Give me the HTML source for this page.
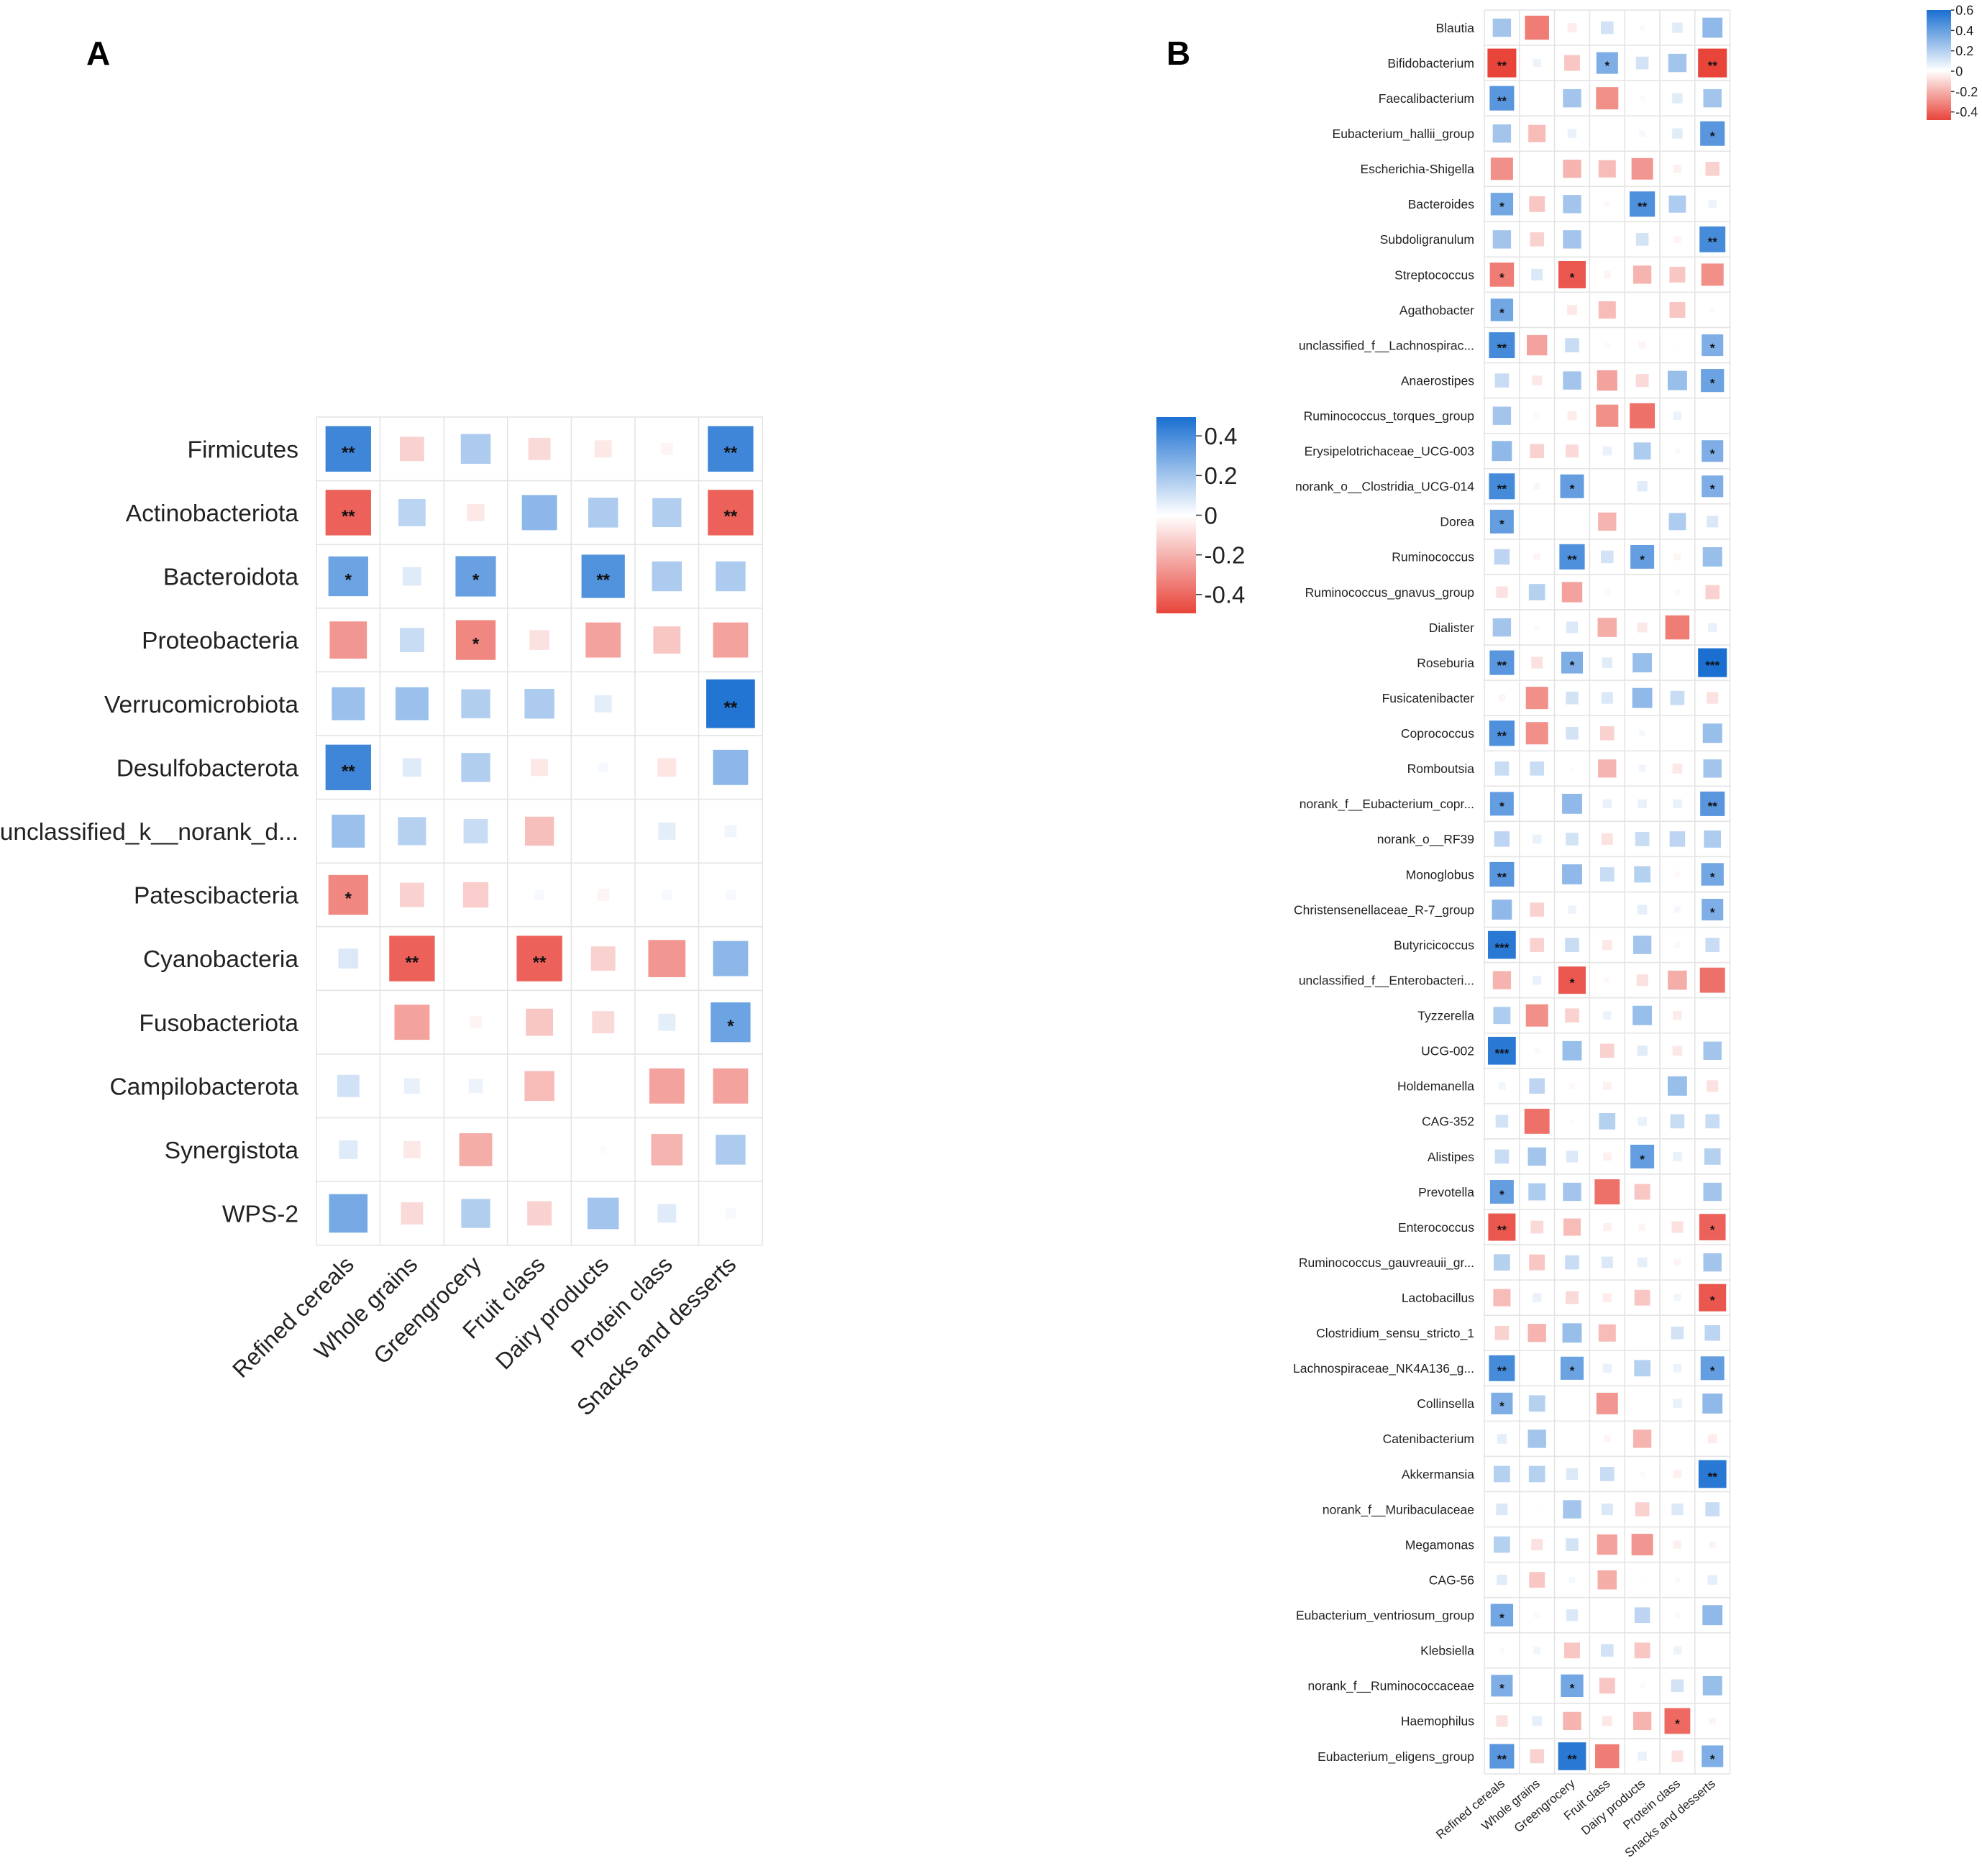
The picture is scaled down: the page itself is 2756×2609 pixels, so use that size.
<!DOCTYPE html>
<html><head><meta charset="utf-8"><style>
html,body{margin:0;padding:0;background:#fff;}
svg{display:block;font-family:"Liberation Sans",Arial,sans-serif;}
</style></head><body>
<svg id="chart" width="2756" height="2609" viewBox="0 0 2756 2609" xmlns="http://www.w3.org/2000/svg">
<rect width="2756" height="2609" fill="#fff"/>
<text x="120" y="90" font-size="46" font-weight="bold">A</text>
<text x="1622" y="90" font-size="46" font-weight="bold">B</text>
<g id="pa"></g>
<g id="pb"></g>
<defs>
<linearGradient id="gA" x1="0" y1="0" x2="0" y2="1">
<stop offset="0" stop-color="#1a6fd1"/><stop offset="0.5" stop-color="#ffffff"/><stop offset="1" stop-color="#e8443a"/>
</linearGradient>
<linearGradient id="gB" x1="0" y1="0" x2="0" y2="1">
<stop offset="0" stop-color="#1a6fd1"/><stop offset="0.55" stop-color="#ffffff"/><stop offset="1" stop-color="#e8443a"/>
</linearGradient>
</defs>
</svg>
<script>
const colsA = ["Refined cereals","Whole grains","Greengrocery","Fruit class","Dairy products","Protein class","Snacks and desserts"];
const rowsA = ["Firmicutes","Actinobacteriota","Bacteroidota","Proteobacteria","Verrucomicrobiota","Desulfobacterota","unclassified_k__norank_d...","Patescibacteria","Cyanobacteria","Fusobacteriota","Campilobacterota","Synergistota","WPS-2"];
const valsA = [
[0.42,-0.12,0.18,-0.1,-0.06,-0.03,0.42],
[-0.42,0.15,-0.06,0.25,0.18,0.17,-0.42],
[0.32,0.07,0.33,0,0.38,0.18,0.18],
[-0.28,0.12,-0.32,-0.08,-0.25,-0.15,-0.25],
[0.22,0.22,0.17,0.18,0.06,0,0.48],
[0.42,0.07,0.17,-0.06,0.02,-0.07,0.25],
[0.22,0.16,0.12,-0.17,0,0.06,0.03],
[-0.32,-0.12,-0.13,0.02,-0.03,0.02,0.02],
[0.08,-0.42,0,-0.42,-0.12,-0.28,0.25],
[0,-0.25,-0.03,-0.15,-0.1,0.06,0.32],
[0.1,0.05,0.04,-0.18,0,-0.25,-0.25],
[0.07,-0.06,-0.22,0,0.01,-0.2,0.18],
[0.3,-0.1,0.17,-0.12,0.2,0.07,0.02]];
const starsA = [
["**","","","","","","**"],["**","","","","","","**"],["*","","*","","**","",""],["","","*","","","",""],
["","","","","","","**"],["**","","","","","",""],["","","","","","",""],["*","","","","","",""],
["","**","","**","","",""],["","","","","","","*"],["","","","","","",""],["","","","","","",""],["","","","","","",""]];
const ticksA = ["0.4","0.2","0","-0.2","-0.4"];
const tickValsA = [0.4,0.2,0,-0.2,-0.4];

const rowsB = ["Blautia","Bifidobacterium","Faecalibacterium","Eubacterium_hallii_group","Escherichia-Shigella","Bacteroides","Subdoligranulum","Streptococcus","Agathobacter","unclassified_f__Lachnospirac...","Anaerostipes","Ruminococcus_torques_group","Erysipelotrichaceae_UCG-003","norank_o__Clostridia_UCG-014","Dorea","Ruminococcus","Ruminococcus_gnavus_group","Dialister","Roseburia","Fusicatenibacter","Coprococcus","Romboutsia","norank_f__Eubacterium_copr...","norank_o__RF39","Monoglobus","Christensenellaceae_R-7_group","Butyricicoccus","unclassified_f__Enterobacteri...","Tyzzerella","UCG-002","Holdemanella","CAG-352","Alistipes","Prevotella","Enterococcus","Ruminococcus_gauvreauii_gr...","Lactobacillus","Clostridium_sensu_stricto_1","Lachnospiraceae_NK4A136_g...","Collinsella","Catenibacterium","Akkermansia","norank_f__Muribaculaceae","Megamonas","CAG-56","Eubacterium_ventriosum_group","Klebsiella","norank_f__Ruminococcaceae","Haemophilus","Eubacterium_eligens_group"];
const valsB = [
[.25,-.35,-.05,.12,.02,.08,.3],[-.5,.05,-.15,.35,.12,.25,-.5],[.45,0,.25,-.3,.02,.08,.25],[.25,-.18,.06,0,.03,.08,.45],
[-.3,0,-.2,-.18,-.28,-.04,-.12],[.38,-.15,.25,-.02,.48,.22,.05],[.25,-.12,.25,.01,.12,-.03,.5],[-.35,.1,-.45,-.03,-.2,-.15,-.3],
[.38,0,-.06,-.18,0,-.15,.02],[.5,-.25,.15,.02,-.03,.01,.35],[.15,-.06,.25,-.25,-.1,.28,.4],[.25,-.02,-.05,-.3,-.38,.05,0],
[.3,-.12,-.1,.06,.22,.02,.35],[.5,.03,.42,0,.08,0,.35],[.42,0,0,-.2,0,.22,.1],[.18,-.03,.48,.12,.42,-.03,.28],
[-.08,.2,-.25,-.02,0,-.02,-.12],[.25,.02,.1,-.22,-.06,-.35,.06],[.45,-.08,.35,.08,.28,0,.62],[-.03,-.3,.12,.1,.3,.15,-.08],
[.48,-.3,.12,-.12,.03,0,.28],[.15,.15,-.01,-.2,.04,-.06,.25],[.42,0,.3,.06,.06,.06,.45],[.18,.06,.12,-.08,.15,.18,.22],
[.45,0,.3,.15,.2,-.02,.38],[.3,-.12,.05,0,.07,.03,.35],[.58,-.12,.15,-.06,.25,-.02,.15],[-.2,.06,-.45,-.02,-.08,-.22,-.38],
[.22,-.3,-.12,.05,.28,-.05,0],[.58,-.02,.28,-.12,.08,-.06,.25],[.04,.18,-.02,-.04,0,.28,-.08],[.12,-.38,-.01,.2,.06,.15,.15],
[.15,.25,.1,-.04,.42,.06,.2],[.42,.22,.25,-.38,-.15,0,.25],[-.45,-.1,-.18,-.04,-.03,-.08,-.42],[.2,-.15,.15,.1,.07,-.03,.25],
[-.18,.06,-.1,-.05,-.15,.04,-.45],[-.12,-.2,.28,-.18,0,.12,.18],[.5,.01,.4,.06,.2,.05,.42],[.35,.2,0,-.28,0,.06,.3],
[.07,.25,0,-.03,-.2,0,-.05],[.2,.2,.1,.15,.02,-.04,.58],[.1,.01,.25,.1,-.12,.1,.15],[.2,-.08,.12,-.25,-.28,-.04,-.03],
[.08,-.15,.03,-.22,.01,.02,.07],[.38,-.02,.1,0,.18,.02,.3],[.02,.04,-.15,.12,-.15,.05,0],[.35,0,.38,-.15,.02,.12,.28],
[-.08,.07,-.2,-.06,-.2,-.4,-.03],[.45,-.12,.58,-.35,.06,-.08,.35]];
const starsB = [
["","","","","","",""],["**","","","*","","","**"],["**","","","","","",""],["","","","","","","*"],
["","","","","","",""],["*","","","","**","",""],["","","","","","","**"],["*","","*","","","",""],
["*","","","","","",""],["**","","","","","","*"],["","","","","","","*"],["","","","","","",""],
["","","","","","","*"],["**","","*","","","","*"],["*","","","","","",""],["","","**","","*","",""],
["","","","","","",""],["","","","","","",""],["**","","*","","","","***"],["","","","","","",""],
["**","","","","","",""],["","","","","","",""],["*","","","","","","**"],["","","","","","",""],
["**","","","","","","*"],["","","","","","","*"],["***","","","","","",""],["","","*","","","",""],
["","","","","","",""],["***","","","","","",""],["","","","","","",""],["","","","","","",""],
["","","","","*","",""],["*","","","","","",""],["**","","","","","","*"],["","","","","","",""],
["","","","","","","*"],["","","","","","",""],["**","","*","","","","*"],["*","","","","","",""],
["","","","","","",""],["","","","","","","**"],["","","","","","",""],["","","","","","",""],
["","","","","","",""],["*","","","","","",""],["","","","","","",""],["*","","*","","","",""],
["","","","","","*",""],["**","","**","","","","*"]];
const ticksB = ["0.6","0.4","0.2","0","-0.2","-0.4"];
const tickValsB = [0.6,0.4,0.2,0,-0.2,-0.4];

const NS = "http://www.w3.org/2000/svg";
function mk(tag, attrs, parent){const e=document.createElementNS(NS,tag);for(const k in attrs)e.setAttribute(k,attrs[k]);parent.appendChild(e);return e;}
function mix(a,b,t){return Math.round(a+(b-a)*t);}
function color(v,posMax,negMax){
  if(v>=0){const t=Math.min(1,v/posMax);return `rgb(${mix(255,26,t)},${mix(255,111,t)},${mix(255,209,t)})`;}
  const t=Math.min(1,-v/negMax);return `rgb(${mix(255,232,t)},${mix(255,68,t)},${mix(255,58,t)})`;
}
function heat(g, cfg){
  const {rows, cols, vals, stars, x0, y0, cell, cellH, posMax, negMax, rowFont, labelX, colFont, colRot, starFont, sizeMax} = cfg;
  const ch = cellH || cell;
  const xs = i => x0 + i*cell, ys = j => y0 + j*ch;
  rows.forEach((r,j)=>{
    const t=mk('text',{x:labelX,y:ys(j)+ch/2+rowFont*0.36,'font-size':rowFont,'text-anchor':'end',fill:'#222'},g);
    
    
    t.textContent=r;
    cols.forEach((c,i)=>{
      const bg=mk('rect',{x:xs(i),y:ys(j),width:cell,height:ch,fill:'#fff',stroke:'#e4e4e4','stroke-width':1.5},g);
      
      
      const v=vals[j][i];
      const mx = v>=0?posMax:negMax;
      const s = Math.min(cell,ch)*sizeMax*Math.sqrt(Math.min(1,Math.abs(v)/mx));
      if(s>0.5){
        const sq=mk('rect',{x:xs(i)+(cell-s)/2,y:ys(j)+(ch-s)/2,width:s,height:s,fill:color(v,posMax,negMax)},g);
        
        
      }
      const st=stars[j][i];
      if(st){
        const tt=mk('text',{x:xs(i)+cell/2,y:ys(j)+ch/2+starFont*0.55,'font-size':starFont,'text-anchor':'middle',fill:'#111','font-weight':'bold'},g);
        
        
        tt.textContent=st;
      }
    });
  });
  const yb=ys(rows.length);
  cols.forEach((c,i)=>{
    const cx=xs(i)+cell/2+colFont*0.3, cy=yb+colFont*0.9;
    const t=mk('text',{x:cx,y:cy,'font-size':colFont,'text-anchor':'end',fill:'#222',transform:`rotate(${colRot} ${cx} ${cy})`},g);
    
    
    t.textContent=c;
  });
}
function cbar(g, cfg){
  const {x,y,w,h,grad,ticks,tickVals,top,bottom,font} = cfg;
  const r=mk('rect',{x,y,width:w,height:h,fill:`url(#${grad})`},g);
  
  
  const yv = v => y + (top - v)/(top-bottom)*h;
  ticks.forEach((lab,k)=>{
    const yy=yv(tickVals[k]);
    mk('line',{x1:x+w,x2:x+w+font*0.25,y1:yy,y2:yy,stroke:'#333','stroke-width':1.5},g);
    const t=mk('text',{x:x+w+font*0.35,y:yy+font*0.36,'font-size':font,fill:'#222'},g);
    
    
    t.textContent=lab;
  });
}
const ga=document.getElementById('pa'), gb=document.getElementById('pb');
heat(ga,{rows:rowsA,cols:colsA,vals:valsA,stars:starsA,x0:440,y0:580,cell:88.6,posMax:0.5,negMax:0.5,rowFont:33.5,labelX:415,colFont:32,colRot:-45,starFont:24,sizeMax:0.78});
heat(gb,{rows:rowsB,cols:colsA,vals:valsB,stars:starsB,x0:2064,y0:14,cell:48.8,cellH:49.06,posMax:0.62,negMax:0.5,rowFont:17.5,labelX:2050,colFont:17,colRot:-40,starFont:17,sizeMax:0.82});
cbar(ga,{x:1608,y:580,w:55,h:273,grad:'gA',ticks:ticksA,tickVals:tickValsA,top:0.495,bottom:-0.495,font:33});
cbar(gb,{x:2679,y:14,w:34,h:153,grad:'gB',ticks:ticksB,tickVals:tickValsB,top:0.6,bottom:-0.48,font:18});
</script>
</body></html>
